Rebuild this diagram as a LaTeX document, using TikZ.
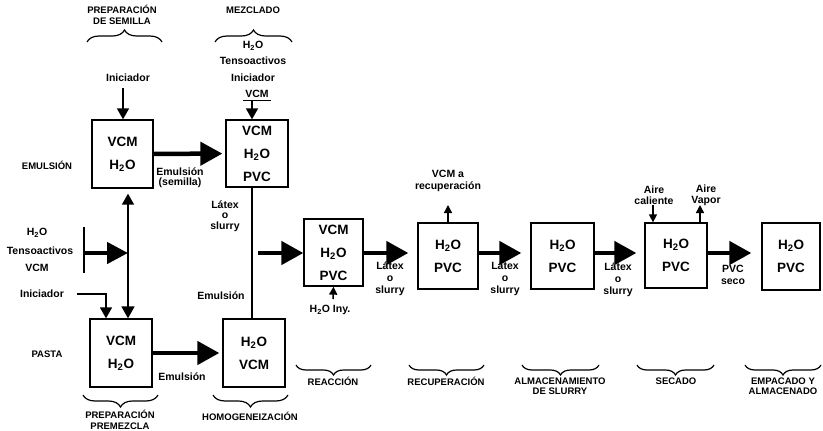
\documentclass[tikz,border=0pt]{standalone}
\usepackage{fontspec}
\setmainfont{Liberation Sans}
\usetikzlibrary{arrows.meta,decorations.pathreplacing}
\begin{document}
\begin{tikzpicture}[x=1pt,y=-1pt,
  box/.style={draw,line width=1.3pt,inner sep=0pt,align=center,font=\bfseries\fontsize{13.5}{23}\selectfont},
  lbl/.style={font=\bfseries\fontsize{10.5}{11}\selectfont,inner sep=0pt,align=center},
  hdr/.style={font=\bfseries\fontsize{9.5}{10.5}\selectfont,inner sep=0pt,align=center},
  big/.style={line width=4.5pt,-{Triangle[length=22pt,width=23pt]}},
  med/.style={line width=1.5pt,-{Triangle[length=11pt,width=12pt]}},
  thinar/.style={line width=1.5pt,-{Triangle[length=8pt,width=8pt]}},
  plain/.style={line width=1.3pt},
  brc/.style={decorate,decoration={brace,amplitude=12pt},line width=1.2pt},
  brcm/.style={decorate,decoration={brace,mirror,amplitude=12pt},line width=1.2pt},
  brcs/.style={decorate,decoration={brace,mirror,amplitude=10pt},line width=1.2pt},
]
\useasboundingbox (0,0) rectangle (823,431);

% headers top
\node[hdr] (hsem) at (122,15) {PREPARACIÓN\\DE SEMILLA};
\node[hdr] (hmez) at (253,10) {MEZCLADO};
\coordinate (bs1) at (87,42); \coordinate (bs2) at (162,42);
\coordinate (bm1) at (215,42); \coordinate (bm2) at (292,42);
\draw[brc] (bs1) -- (bs2);
\draw[brc] (bm1) -- (bm2);

% mezclado inputs
\node[lbl] (mh2o) at (253,46) {H\textsubscript{2}O};
\node[lbl] (mten) at (253,61) {Tensoactivos};
\node[lbl] (mini) at (253,78) {Iniciador};
\node[lbl] (mvcm) at (257,94) {VCM};
\node[lbl] (sini) at (128,78) {Iniciador};

% left labels
\node[hdr] (lemu) at (47,165) {EMULSIÓN};
\node[hdr] (lpas) at (47,354) {PASTA};
\node[lbl] (lh2o) at (37,233) {H\textsubscript{2}O};
\node[lbl] (lten) at (40,251) {Tensoactivos};
\node[lbl] (lvcm) at (37,268) {VCM};
\node[lbl] (lini) at (42,294) {Iniciador};

% boxes
\node[box,minimum width=61pt,minimum height=68pt] (b1) at (122.5,154) {VCM\\H\textsubscript{2}O};
\node[box,minimum width=62pt,minimum height=67pt] (b2) at (257,153.5) {VCM\\H\textsubscript{2}O\\PVC};
\node[box,minimum width=62pt,minimum height=68pt] (pas) at (121,353) {VCM\\H\textsubscript{2}O};
\node[box,minimum width=62pt,minimum height=68pt] (hom) at (254,353) {H\textsubscript{2}O\\VCM};
\node[box,minimum width=59pt,minimum height=67pt] (reac) at (333.5,252.5) {VCM\\H\textsubscript{2}O\\PVC};
\node[box,minimum width=60pt,minimum height=66pt] (rec) at (448,256) {H\textsubscript{2}O\\PVC};
\node[box,minimum width=63pt,minimum height=66pt] (sto) at (562.5,256) {H\textsubscript{2}O\\PVC};
\node[box,minimum width=62pt,minimum height=65pt] (dry) at (676,255.5) {H\textsubscript{2}O\\PVC};
\node[box,minimum width=58pt,minimum height=67pt] (fin) at (791,256.5) {H\textsubscript{2}O\\PVC};

% helper coordinates
\coordinate (x123) at (123,0);
\coordinate (x252) at (252,0);
\coordinate (vx) at (128,0);
\coordinate (ix) at (106,0);
\coordinate (ay) at (0,253);
\coordinate (ini1) at (123,88);
\coordinate (vcmu1) at (243,100);
\coordinate (vcmu2) at (271,100);
\coordinate (vcmu) at (252,100);
\coordinate (bt) at (84,227);
\coordinate (bb) at (84,273);
\coordinate (bmid) at (84,253);
\coordinate (vmid) at (128,253);
\coordinate (ip) at (77,294);
\coordinate (ms) at (258,253);

% top inputs
\draw[med] (ini1) -- (b1.north -| x123);
\draw[line width=1pt] (vcmu1) -- (vcmu2);
\draw[med] (vcmu) -- (b2.north -| x252);

% emulsion and pasta arrows
\draw[big,shorten >=3pt] (b1) -- (b2);
\node[lbl,font=\bfseries\fontsize{10.5}{10}\selectfont] (emsem) at (180,178) {Emulsión\\(semilla)};
\draw[big,shorten >=3pt] (pas) -- (hom);
\node[lbl] (em3) at (182,377) {Emulsión};

% left inputs
\draw[line width=1.5pt] (bt) -- (bb);
\draw[big,-{Triangle[length=21pt,width=21pt]}] (bmid) -- (vmid);
\draw[line width=1.5pt,{Triangle[length=11pt,width=12pt]}-{Triangle[length=12pt,width=13pt]},shorten <=5pt] (b1.south -| vx) -- (pas.north -| vx);
\draw[med] (ip) -| (pas.north -| ix);

% mezclado to homogeneizacion
\draw[plain] (b2.south -| x252) -- (hom.north -| x252);
\node[lbl,font=\bfseries\fontsize{10.5}{10.5}\selectfont] (ls0) at (225,216) {Látex\\o\\slurry};
\node[lbl] (em2) at (221,296) {Emulsión};

% main line
\draw[big] (ms) -- (reac.west |- ms);
\draw[big,shorten >=9pt] (reac.east |- ay) -- (rec.west |- ay);
\draw[big,shorten >=9pt] (rec.east |- ay) -- (sto.west |- ay);
\draw[big,shorten >=8pt] (sto.east |- ay) -- (dry.west |- ay);
\draw[big,shorten >=10pt] (dry.east |- ay) -- (fin.west |- ay);
\node[lbl,font=\bfseries\fontsize{10.5}{12}\selectfont] (l1) at (390,279) {Látex\\o\\slurry};
\node[lbl,font=\bfseries\fontsize{10.5}{12}\selectfont] (l2) at (505,279) {Látex\\o\\slurry};
\node[lbl,font=\bfseries\fontsize{10.5}{12}\selectfont] (l3) at (618,280) {Látex\\o\\slurry};
\node[lbl,font=\bfseries\fontsize{10.5}{12}\selectfont] (l4) at (733,275) {PVC\\seco};

% side streams
\node[lbl] (iny) at (330,310) {H\textsubscript{2}O Iny.};
\coordinate (inyt) at (333,299);
\draw[thinar] (inyt) -- (reac.south);
\node[lbl,font=\bfseries\fontsize{10.5}{12}\selectfont] (vrec) at (448,181) {VCM a\\recuperación};
\coordinate (vrect) at (448,205);
\draw[thinar] (rec.north) -- (vrect);
\node[lbl] (aire1) at (654,195) {Aire\\caliente};
\node[lbl] (aire2) at (706,195) {Aire\\Vapor};
\coordinate (ac) at (653,205);
\coordinate (av) at (700,205);
\draw[thinar] (ac) -- (dry.north -| ac);
\draw[thinar] (dry.north -| av) -- (av);

% bottom braces
\coordinate (p1) at (83,395); \coordinate (p2) at (158,395);
\coordinate (h1) at (213,395); \coordinate (h2) at (288,395);
\draw[brcm] (p1) -- (p2);
\draw[brcm] (h1) -- (h2);
\node[hdr] (tpre) at (120,420) {PREPARACIÓN\\PREMEZCLA};
\node[hdr] (thom) at (250,416) {HOMOGENEIZACIÓN};

\coordinate (r1) at (296,365); \coordinate (r2) at (371,365);
\coordinate (c1) at (409,365); \coordinate (c2) at (484,365);
\coordinate (s1) at (522,365); \coordinate (s2) at (599,365);
\coordinate (d1) at (637,365); \coordinate (d2) at (714,365);
\coordinate (e1) at (745,365); \coordinate (e2) at (821,365);
\draw[brcs] (r1) -- (r2);
\draw[brcs] (c1) -- (c2);
\draw[brcs] (s1) -- (s2);
\draw[brcs] (d1) -- (d2);
\draw[brcs] (e1) -- (e2);
\node[hdr] (treac) at (333,381) {REACCIÓN};
\node[hdr] (trec) at (446,381) {RECUPERACIÓN};
\node[hdr] (tsto) at (560,386) {ALMACENAMIENTO\\DE SLURRY};
\node[hdr] (tsec) at (676,381) {SECADO};
\node[hdr] (temp) at (783,386) {EMPACADO Y\\ALMACENADO};
\end{tikzpicture}
\end{document}
